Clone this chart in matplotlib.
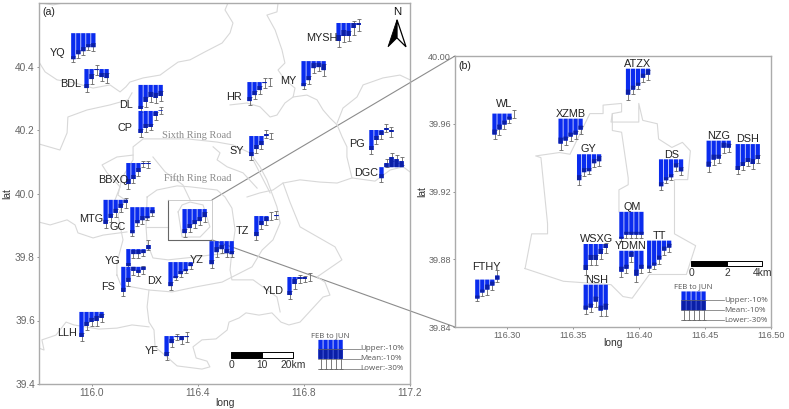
from __future__ import annotations

import matplotlib

matplotlib.use("Agg")
import matplotlib.pyplot as plt
from matplotlib.patches import ConnectionPatch

plt.rcParams["font.family"] = ["Liberation Sans", "DejaVu Sans"]

# ---- panel (a): stations, lon/lat of the bar group's top-left corner
names_a = ["YQ", "BDL", "DL", "CP", "BBXQ", "MTG", "GC", "YG", "FS", "DX", "LLH", "YF",
           "YZ", "TZ", "YLD", "MYSH", "MY", "HR", "SY", "PG", "DGC", ""]
lon_a = [115.92, 115.97, 116.174, 116.174, 116.128, 116.042, 116.143, 116.128, 116.109, 116.287, 115.951, 116.272,
         116.442, 116.611, 116.736, 116.921, 116.789, 116.585, 116.592, 117.045, 117.083, 116.34]
lat_a = [40.505, 40.392, 40.342, 40.26, 40.096, 39.98, 39.957, 39.825, 39.769, 39.784, 39.627, 39.551,
         39.85, 39.929, 39.737, 40.537, 40.417, 40.351, 40.181, 40.2, 40.083, 39.951]
means_a = [
    [-26, -21, -18, -14, -14], [-19, -10, -1, -8, -9], [-24, -17, -12, -13, -11], [-22, -17, -16, -5, 0.5],
    [-21, -16, -9, -1, -1], [-24, -18, -13, -8, -3], [-26, -16, -13, -11, -6], [-17, -5, -5, -4, 4],
    [-25, -15, -4, -6, -3], [-24, -16, -12, -9, -4], [-25, -14, -10, -9, -6], [-20, -7, -1, -4, -1],
    [-23, -11, -8, -12, -13], [-20, -9, -5, 0, 1], [-18, -7, -2, -2, 0], [-18, -13, -13, -5, -2],
    [-25, -19, -7, -6, -9], [-19, -13, -8, -1, 0], [-20, -13, -9, 2, 0], [-20, -10, -5, 2, -2],
    [-11, 4, 10, 8, 6], [-24, -19, -15, -12, -8],
]
errs_a = [
    [3, 4, 4, 3, 4], [4, 5, 5, 4, 5], [3, 5, 5, 5, 5], [4, 4, 3, 4, 3.5],
    [5, 4, 4, 3, 3.5], [4, 4, 4, 4, 5], [3, 3, 4, 2, 3], [3, 4, 4, 3, 5],
    [4, 4, 4, 3, 4], [4, 2, 3, 2, 3], [4, 4, 4, 5, 4], [4, 4, 3, 4, 5],
    [4, 5, 4, 4, 3], [4, 4, 4, 4, 4], [4, 5, 4, 3, 4], [6, 6, 5, 7, 6],
    [3, 4, 5, 4, 6], [4, 4, 4, 5, 4], [4, 4, 4, 4, 3], [4, 4, 4, 4, 5],
    [4, 4, 4, 4, 4], [4, 4, 4, 4, 5],
]
label_off_a = [(-13, 20), (-13, 15), (-12, 20), (-13, 17), (-13, 17), (-12, 19), (-12, 20), (-13, 12), (-13, 20),
               (-13, 19), (-12, 21), (-12, 15), (-12, 19), (-12, 15), (-14, 14), (-14, 15), (-13, 20), (-13, 15),
               (-12, 15), (-12, 14), (-13, 6), (0, 0)]

# ---- panel (b)
names_b = ["ATZX", "WL", "XZMB", "GY", "DS", "NZG", "DSH", "QM", "WSXG", "YDMN", "TT", "NSH", "FTHY"]
lon_b = [116.390, 116.289, 116.339, 116.353, 116.415, 116.451, 116.473, 116.385, 116.358, 116.385, 116.406, 116.358, 116.276]
lat_b = [39.9925, 39.966, 39.963, 39.942, 39.939, 39.95, 39.948, 39.908, 39.889, 39.885, 39.891, 39.865, 39.868]
means_b = [
    [-26, -21, -17, -9, -6], [-21, -16, -11, -6, 0], [-25, -22, -18, -16, -11], [-26, -18, -17, -9, -7],
    [-27, -21, -18, -8, -12], [-26, -19, -18, -7, -7], [-26, -22, -18, -20, -15], [-27, -23, -23, -23, -23],
    [-26, -16, -16, -10, -4], [-21, -18, -6, -25, -18], [-28, -25, -19, -10, -7], [-25, -23, -17, -26, -25],
    [-19, -13, -10, -6, 4],
]
errs_b = [
    [5, 4, 3, 4, 5], [5, 5, 4, 3, 4], [6, 4, 4, 4, 4], [5, 4, 3, 4, 5],
    [4, 3, 3, 4, 4], [5, 5, 4, 5, 4], [4, 4, 4, 5, 4], [2, 3, 3, 3, 3],
    [5, 5, 5, 5, 5], [5, 4, 5, 6, 4], [3, 3, 4, 4, 4], [4, 4, 5, 5, 6],
    [3, 3, 5, 4, 6],
]
label_off_b = [(12, -5), (12, -10), (13, -5), (12, -5), (13, -4), (12, -5), (12, -5), (13, -5), (13, -5), (12, -5),
               (13, -5), (13, -5), (12, -13)]

# legend key values
key_means = [-19, -19, -19, -19, -19]
key_errs = [10, 10, 10, 10, 10]
key_texts = ["Upper:-10%", "Mean:-10%", "Lower:-30%"]

# ---- map outlines, lon/lat
fifth_ring = [(116.208, 39.989), (116.245, 40.011), (116.321, 40.024), (116.370, 40.021), (116.472, 40.011),
              (116.502, 39.989), (116.528, 39.954), (116.540, 39.885), (116.532, 39.838), (116.525, 39.813),
              (116.445, 39.806), (116.389, 39.800), (116.287, 39.791), (116.230, 39.797), (116.208, 39.844),
              (116.204, 39.895), (116.208, 39.989)]
sixth_ring = [(116.094, 39.743), (116.109, 39.712), (116.215, 39.696), (116.302, 39.690), (116.393, 39.706),
              (116.491, 39.721), (116.604, 39.769), (116.642, 39.822), (116.683, 39.854), (116.710, 39.907),
              (116.698, 39.958), (116.660, 40.043), (116.634, 40.084), (116.596, 40.128), (116.532, 40.153),
              (116.472, 40.162), (116.359, 40.172), (116.257, 40.172), (116.193, 40.172), (116.155, 40.147),
              (116.155, 40.106), (116.113, 40.049), (116.098, 39.995), (116.125, 39.980), (116.098, 39.932),
              (116.117, 39.854), (116.094, 39.781), (116.094, 39.743)]
border_nw = [(115.80, 40.414), (115.823, 40.383), (115.868, 40.358), (115.936, 40.348), (116.004, 40.332),
             (116.068, 40.342), (116.106, 40.320), (116.128, 40.336), (116.143, 40.351), (116.193, 40.364),
             (116.257, 40.373), (116.283, 40.389), (116.325, 40.414), (116.370, 40.421), (116.426, 40.446),
             (116.491, 40.474), (116.521, 40.506), (116.532, 40.537), (116.502, 40.578), (116.513, 40.600)]
border_w = [(115.80, 40.156), (115.879, 40.137), (115.906, 40.191), (115.909, 40.241), (115.981, 40.263),
            (116.068, 40.279), (116.136, 40.295), (116.151, 40.317)]
border_n = [(116.521, 40.279), (116.585, 40.285), (116.634, 40.273), (116.672, 40.241), (116.698, 40.247),
            (116.728, 40.285), (116.759, 40.304), (116.766, 40.332), (116.728, 40.358), (116.702, 40.389),
            (116.728, 40.411), (116.717, 40.452), (116.691, 40.515), (116.660, 40.562), (116.698, 40.572),
            (116.702, 40.600)]
border_ne = [(116.759, 40.304), (116.811, 40.310), (116.849, 40.295), (116.872, 40.263), (116.898, 40.238),
             (116.925, 40.216), (116.944, 40.178), (116.962, 40.147), (116.962, 40.115), (116.981, 40.049),
             (117.068, 40.039), (117.125, 40.074), (117.174, 40.084), (117.200, 40.068)]
border_e = [(116.925, 40.222), (116.947, 40.269), (117.000, 40.304), (117.023, 40.342), (117.098, 40.364),
            (117.162, 40.373), (117.200, 40.358)]
district_shunyi = [(116.585, 39.989), (116.634, 40.002), (116.683, 40.011), (116.721, 40.033), (116.785, 40.043),
                   (116.860, 40.036), (116.925, 40.033), (116.981, 40.049)]
district_stem = [(116.608, 40.106), (116.672, 40.002)]
district_mid = [(116.457, 40.147), (116.483, 40.128), (116.472, 40.106), (116.510, 40.084), (116.570, 40.065),
                (116.623, 40.017)]
district_haidian = [(116.230, 40.115), (116.276, 40.068), (116.343, 40.027), (116.370, 39.980)]
district_changping = [(116.155, 40.121), (116.094, 40.115), (116.038, 40.090), (116.057, 40.065), (116.106, 40.021),
                      (116.087, 39.980)]
district_mtg = [(115.80, 39.910), (115.842, 39.901), (115.906, 39.917), (115.936, 39.901), (115.947, 39.876),
                (116.004, 39.860), (116.042, 39.869), (116.132, 39.879)]
district_ring = [(116.204, 39.895), (116.245, 39.895), (116.287, 39.895)]
district_south = [(116.215, 39.696), (116.208, 39.643), (116.215, 39.595), (116.234, 39.570), (116.238, 39.517),
                  (116.283, 39.485), (116.321, 39.457), (116.415, 39.447), (116.445, 39.454), (116.434, 39.472),
                  (116.393, 39.482), (116.381, 39.517), (116.415, 39.539), (116.468, 39.542), (116.510, 39.570),
                  (116.517, 39.595), (116.555, 39.608), (116.581, 39.624), (116.630, 39.617), (116.679, 39.624),
                  (116.713, 39.595), (116.743, 39.586), (116.785, 39.595), (116.872, 39.674), (116.898, 39.680),
                  (116.879, 39.721), (116.849, 39.737), (116.943, 39.791), (116.917, 39.832), (116.785, 39.895),
                  (116.747, 39.973), (116.721, 40.033)]
district_tongzhou = [(116.528, 39.822), (116.521, 39.759), (116.528, 39.728), (116.608, 39.728), (116.698, 39.674),
                     (116.710, 39.627)]
district_sw = [(115.80, 39.513), (115.819, 39.507), (115.811, 39.539), (115.864, 39.554), (115.902, 39.595),
               (115.932, 39.586), (116.026, 39.573), (116.094, 39.576), (116.151, 39.586), (116.215, 39.580)]
corner_nw = [(115.804, 40.600), (115.853, 40.594), (115.891, 40.600)]
urban_a = [(116.325, 39.942), (116.340, 39.964), (116.370, 39.973), (116.419, 39.964), (116.445, 39.895),
           (116.408, 39.863), (116.340, 39.863), (116.325, 39.942)]
outlines_a = [fifth_ring, sixth_ring, border_nw, border_w, border_n, border_ne, border_e, district_shunyi,
              district_stem, district_mid, district_haidian, district_changping, district_mtg, district_ring,
              district_south, district_tongzhou, district_sw, corner_nw, urban_a]

urban_outer = [(116.314, 39.8745), (116.319, 39.895), (116.331, 39.895), (116.331, 39.901), (116.326, 39.940),
               (116.322, 39.941), (116.340, 39.943), (116.348, 39.942), (116.363, 39.966), (116.373, 39.966),
               (116.373, 39.971), (116.387, 39.972), (116.387, 39.967), (116.380, 39.966), (116.379, 39.961),
               (116.400, 39.961), (116.400, 39.972), (116.403, 39.962), (116.414, 39.960), (116.415, 39.951),
               (116.425, 39.946), (116.433, 39.949), (116.439, 39.944), (116.437, 39.927), (116.427, 39.927),
               (116.427, 39.895), (116.443, 39.888), (116.436, 39.871), (116.408, 39.871), (116.395, 39.857),
               (116.388, 39.858), (116.379, 39.865), (116.343, 39.867), (116.314, 39.8745)]
urban_inner = [(116.380, 39.966), (116.380, 39.956), (116.387, 39.955), (116.392, 39.928), (116.392, 39.924),
               (116.385, 39.921), (116.385, 39.908)]
outlines_b = [urban_outer, urban_inner]

BLUE = "#0a2cee"
DARK = "#0b1fa6"
WHISKER = "#666666"
TICK = "#666666"
LINE = "#d8d8d8"
SPINE = "#ababab"


def draw_group(ax, lon, lat, means, errs, step, unit):
    xs = [lon + (i + 0.5) * step for i in range(len(means))]
    # whiskers go under the bars, only the part sticking out shows
    ax.errorbar(xs, [lat + m * unit for m in means], yerr=[e * unit for e in errs], fmt="none",
                ecolor=WHISKER, elinewidth=0.6, capsize=1.6, capthick=0.6, zorder=2.8)
    # snap off so every gap between columns blurs the same way
    ax.bar(xs, [m * unit for m in means], bottom=lat, width=step * 0.86, color=BLUE, lw=0, snap=False, zorder=3)
    # darker piece between the mean and the upper bound
    for x, m, e in zip(xs, means, errs):
        top = min(m + e, 0) if m < 0 else 0
        ax.bar(x, (m - top) * unit, bottom=lat + top * unit, width=step * 0.86, color=DARK, lw=0, snap=False, zorder=3.2)


def draw_labels(ax, names, lons, lats, offsets):
    for name, lon, lat, off in zip(names, lons, lats, offsets):
        ax.annotate(name, (lon, lat), xytext=(off[0] * 0.72, -off[1] * 0.72), textcoords="offset points",
                    ha="center", va="center", fontsize=7.8, color="#222222", zorder=5)


def draw_key(ax, lon, lat, step, unit, text_lon, title_lat):
    draw_group(ax, lon, lat, key_means, key_errs, step, unit)
    levels = [key_means[0] + key_errs[0], key_means[0], key_means[0] - key_errs[0]]
    for level, txt in zip(levels, key_texts):
        y = lat + level * unit
        ax.plot([lon, text_lon], [y, y], color="#666666", lw=0.5, zorder=3.5)
        ax.text(text_lon, y, txt, fontsize=5.8, color="#555555", ha="left", va="center", family="Open Sans")
    ax.text(lon + 2.5 * step, title_lat, "FEB to JUN", fontsize=5.6, color="#555555", ha="center", va="center",
            family="Open Sans")


def draw_scale(ax, lons, top, bottom, labels, label_lat):
    ax.fill_between(lons[:2], bottom, top, facecolor="black", edgecolor="black", lw=0.7, zorder=3)
    ax.fill_between(lons[1:], bottom, top, facecolor="white", edgecolor="black", lw=0.7, zorder=3)
    for lon, txt in zip(lons, labels):
        ax.text(lon, label_lat, txt, fontsize=7.4, color="#333333", ha="center", va="center")


def style_axes(ax, label_x, label_y, size):
    ax.patch.set_visible(False)
    for spine in ax.spines.values():
        spine.set_color(SPINE)
        spine.set_linewidth(1.0)
    ax.tick_params(colors=TICK, labelsize=size, length=1.5, width=0.5, pad=1.5)
    ax.set_xlabel("long", fontsize=7.4, color="#333333")
    ax.set_ylabel("lat", fontsize=7.4, color="#333333")
    ax.xaxis.set_label_coords(0.5, label_x)
    ax.yaxis.set_label_coords(label_y, 0.5)


def main() -> None:
    w, h = 789, 409
    fig = plt.figure(figsize=(w / 100, h / 100), dpi=100)
    ax_a = fig.add_axes([39 / w, (h - 384) / h, 371 / w, 381 / h])
    ax_b = fig.add_axes([455 / w, (h - 327) / h, 316 / w, 271 / h])

    # (a)
    ax_a.set_xlim(115.8, 117.2)
    ax_a.set_ylim(39.4, 40.6)
    ax_a.set_xticks([116.0, 116.4, 116.8, 117.2], ["116.0", "116.4", "116.8", "117.2"])
    ax_a.set_yticks([39.4, 39.6, 39.8, 40.0, 40.2, 40.4], ["39.4", "39.6", "39.8", "40.0", "40.2", "40.4"])
    style_axes(ax_a, -0.037, -0.073, 7.3)
    for outline in outlines_a:
        ax_a.plot([p[0] for p in outline], [p[1] for p in outline], color=LINE, lw=0.8, zorder=1)
    step_a, unit_a = 0.0189, 1 / 317.5
    for lon, lat, m, e in zip(lon_a, lat_a, means_a, errs_a):
        draw_group(ax_a, lon, lat, m, e, step_a, unit_a)
    draw_labels(ax_a, names_a, lon_a, lat_a, label_off_a)
    ax_a.text(0.008, 0.99, "(a)", transform=ax_a.transAxes, fontsize=7.6, color="#222222", ha="left", va="top")
    ax_a.text(116.396, 40.168, "Sixth Ring Road", family="Liberation Serif", fontsize=7.5, color="#8a8a8a",
              ha="center", va="bottom")
    ax_a.text(116.40, 40.034, "Fifth Ring Road", family="Liberation Serif", fontsize=7.5, color="#8a8a8a",
              ha="center", va="bottom")

    # inset box, darker on the left and bottom
    box_x, box_y = [116.287, 116.453], [39.854, 39.98]
    ax_a.plot([box_x[0], box_x[0], box_x[1]], [box_y[1], box_y[0], box_y[0]], color="#666666", lw=0.8, zorder=2)
    ax_a.plot([box_x[0], box_x[1], box_x[1]], [box_y[1], box_y[1], box_y[0]], color="#c4c4c4", lw=0.6, zorder=2)

    # north arrow
    ax_a.fill([117.151, 117.117, 117.151], [40.547, 40.462, 40.490], facecolor="black", edgecolor="black", lw=0.6, zorder=4)
    ax_a.fill([117.151, 117.185, 117.151], [40.547, 40.462, 40.490], facecolor="white", edgecolor="black", lw=0.9, zorder=4)
    ax_a.text(117.151, 40.572, "N", fontsize=8.2, color="#111111", ha="center", va="center")

    draw_scale(ax_a, [116.525, 116.642, 116.759], 39.5, 39.482, ["0", "10", "20km"], 39.46)
    draw_key(ax_a, 116.853, 39.539, step_a, unit_a, 117.014, 39.553)

    # (b)
    ax_b.set_xticks([116.30, 116.35, 116.40, 116.45, 116.50], ["116.30", "116.35", "116.40", "116.45", "116.50"])
    ax_b.set_xlim(116.261, 116.5)
    ax_b.set_ylim(39.84, 40.0)
    ax_b.set_yticks([39.84, 39.88, 39.92, 39.96, 40.00], ["39.84", "39.88", "39.92", "39.96", "40.00"])
    style_axes(ax_b, -0.041, -0.089, 6.6)
    for outline in outlines_b:
        ax_b.plot([p[0] for p in outline], [p[1] for p in outline], color=LINE, lw=0.8, zorder=1)
    step_b, unit_b = 0.00377, 1 / 1700
    for lon, lat, m, e in zip(lon_b, lat_b, means_b, errs_b):
        draw_group(ax_b, lon, lat, m, e, step_b, unit_b)
    draw_labels(ax_b, names_b, lon_b, lat_b, label_off_b)
    ax_b.text(0.01, 0.98, "(b)", transform=ax_b.transAxes, fontsize=7.6, color="#222222", ha="left", va="top")
    draw_scale(ax_b, [116.4397, 116.4669, 116.4933], 39.879, 39.876, ["0", "2", "4km"], 39.872)
    draw_key(ax_b, 116.432, 39.861, step_b, unit_b, 116.4646, 39.864)

    # zoom lines between the panels
    for y_a, y_b in [(box_y[1], 40.0), (box_y[0], 39.84)]:
        fig.add_artist(ConnectionPatch((box_x[1], y_a), (116.261, y_b), "data", "data", axesA=ax_a, axesB=ax_b,
                                       color="#8c8c8c", lw=0.8, zorder=-1))

    fig.savefig("out.png", dpi=100)
    plt.close(fig)


if __name__ == "__main__":
    main()
